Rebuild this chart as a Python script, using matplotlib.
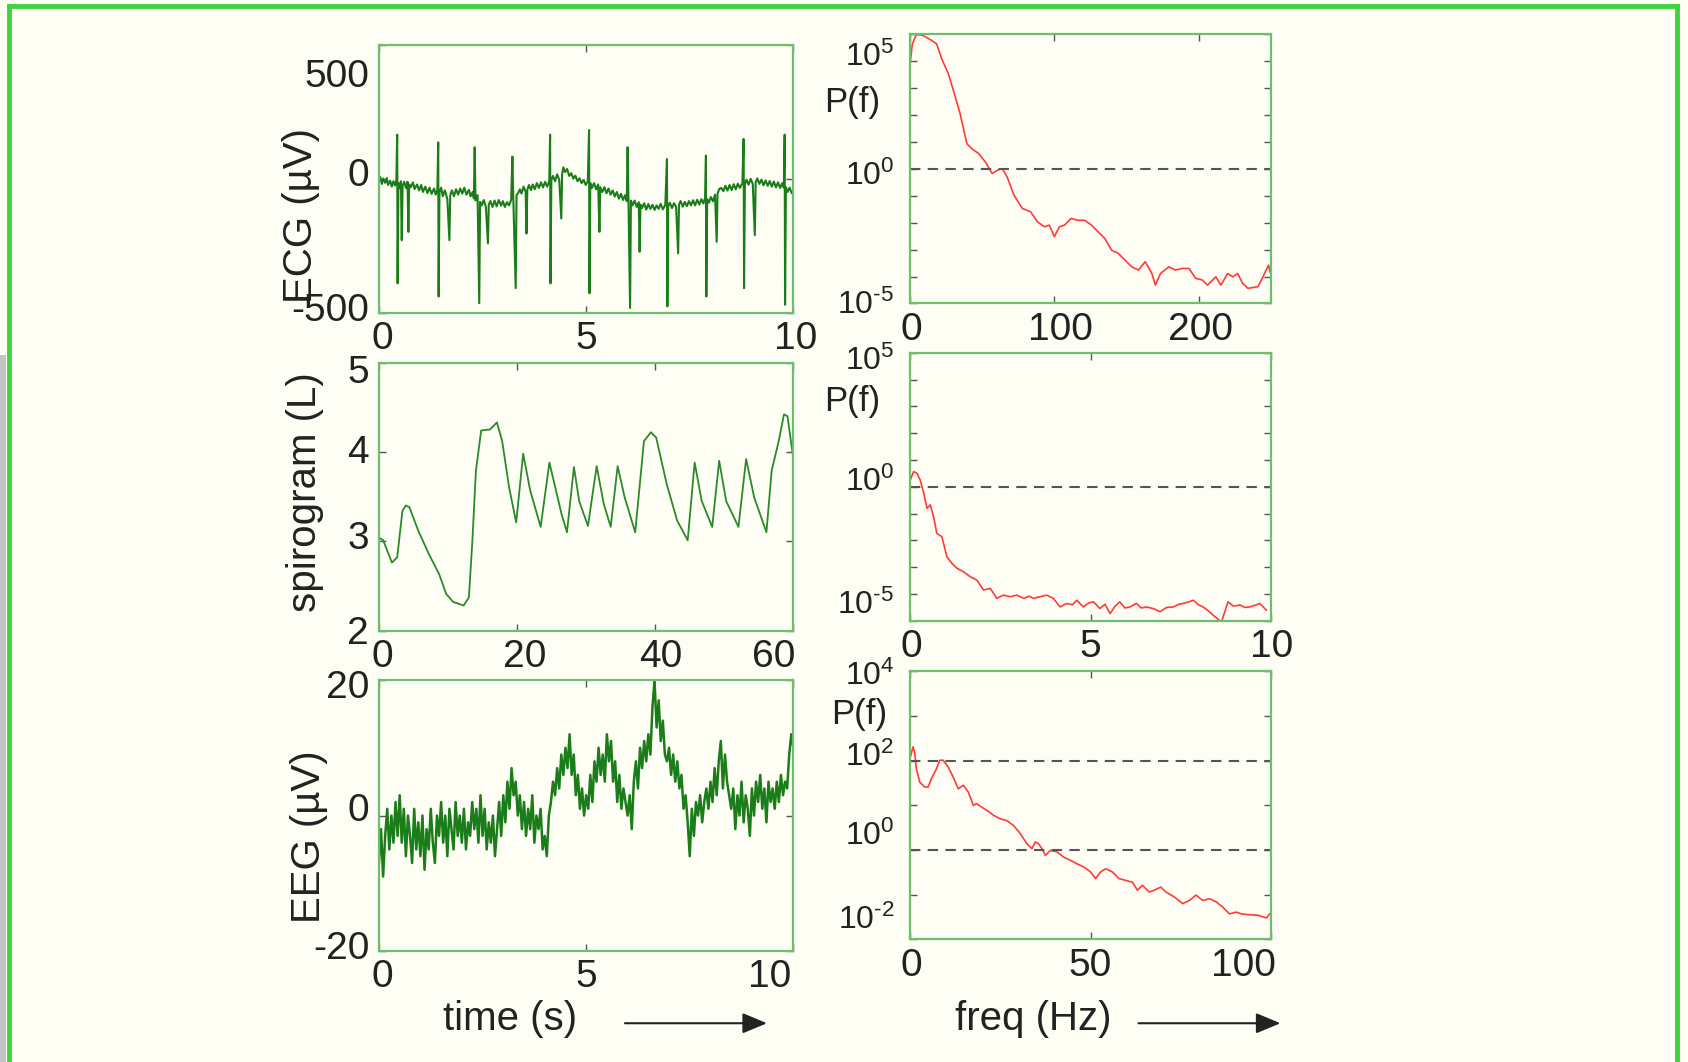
import numpy as np
import matplotlib.pyplot as plt
import matplotlib.transforms as mtransforms
from matplotlib.lines import Line2D
from matplotlib.patches import FancyArrowPatch, Rectangle

plt.rcParams['font.family'] = ['Liberation Sans', 'DejaVu Sans']
plt.rcParams['mathtext.fontset'] = 'custom'
plt.rcParams['mathtext.rm'] = 'Liberation Sans'
plt.rcParams['mathtext.it'] = 'Liberation Sans:italic'

# ECG trace (time s, microvolt)
ecg = [(0.00, -5), (0.03, 8), (0.07, -18), (0.10, 2), (0.15, -14), (0.19, 4), (0.22, -22), (0.27, -6),
       (0.31, -28), (0.35, -8), (0.39, -24), (0.42, -5), (0.44, 166), (0.45, -389), (0.47, -15), (0.50, -34),
       (0.53, -8), (0.55, -228), (0.57, -25), (0.61, -10), (0.65, -33), (0.69, -10), (0.71, -197), (0.73, -20),
       (0.77, -30), (0.82, -12), (0.86, -37), (0.92, -20), (0.97, -42), (1.02, -22), (1.06, -48), (1.12, -28),
       (1.17, -52), (1.22, -32), (1.27, -55), (1.33, -35), (1.37, -58), (1.41, -40), (1.43, 137), (1.44, -438),
       (1.46, -50), (1.50, -32), (1.54, -64), (1.59, -42), (1.65, -74), (1.70, -228), (1.72, -60), (1.76, -42),
       (1.81, -64), (1.86, -38), (1.91, -58), (1.96, -35), (2.01, -54), (2.06, -32), (2.11, -58), (2.17, -40),
       (2.21, -64), (2.26, -48), (2.29, -72), (2.31, 119), (2.33, -80), (2.38, -60), (2.42, -463), (2.44, -85),
       (2.48, -98), (2.53, -78), (2.58, -104), (2.63, -240), (2.65, -95), (2.69, -82), (2.74, -104), (2.79, -80),
       (2.84, -102), (2.89, -78), (2.95, -99), (2.99, -82), (3.04, -104), (3.09, -86), (3.14, -98), (3.19, -78),
       (3.22, 84), (3.24, -60), (3.30, -407), (3.32, -60), (3.36, -52), (3.40, -38), (3.44, -54), (3.49, -28),
       (3.54, -48), (3.56, -203), (3.58, -40), (3.62, -22), (3.67, -41), (3.71, -20), (3.76, -38), (3.81, -15),
       (3.86, -33), (3.91, -12), (3.96, -31), (4.01, -10), (4.06, -28), (4.11, -8), (4.13, 166), (4.14, -389),
       (4.16, -5), (4.20, 12), (4.25, -8), (4.30, 18), (4.35, -2), (4.40, -147), (4.42, 20), (4.45, 44),
       (4.49, 26), (4.54, 38), (4.59, 12), (4.64, 22), (4.69, 2), (4.74, 13), (4.79, -8), (4.84, 3),
       (4.89, -15), (4.94, -3), (4.99, -22), (5.04, -8), (5.07, 183), (5.08, -426), (5.10, -15), (5.14, -33),
       (5.19, -15), (5.24, -38), (5.29, -20), (5.32, -197), (5.34, -30), (5.39, -48), (5.44, -30), (5.49, -53),
       (5.54, -35), (5.59, -58), (5.64, -42), (5.69, -65), (5.74, -48), (5.79, -73), (5.84, -55), (5.89, -78),
       (5.94, -60), (5.98, -82), (6.00, 119), (6.02, -70), (6.06, -481), (6.08, -80), (6.12, -98), (6.17, -80),
       (6.22, -104), (6.27, -86), (6.29, -271), (6.31, -95), (6.35, -108), (6.40, -90), (6.45, -114), (6.50, -93),
       (6.55, -111), (6.60, -96), (6.65, -115), (6.70, -98), (6.75, -111), (6.80, -92), (6.85, -113), (6.91, -96),
       (6.95, 75), (6.96, -475), (6.98, -100), (7.02, -88), (7.07, -108), (7.12, -90), (7.17, -103), (7.22, -277),
       (7.24, -95), (7.28, -82), (7.33, -103), (7.38, -85), (7.43, -101), (7.48, -82), (7.53, -98), (7.58, -79),
       (7.63, -98), (7.68, -77), (7.73, -95), (7.78, -75), (7.83, -91), (7.87, -70), (7.89, 88), (7.90, -438),
       (7.92, -75), (7.96, -88), (8.01, -67), (8.06, -83), (8.11, -58), (8.15, -234), (8.17, -55), (8.21, -37),
       (8.26, -33), (8.31, -45), (8.36, -25), (8.41, -43), (8.46, -22), (8.51, -41), (8.56, -19), (8.61, -38),
       (8.66, -17), (8.71, -33), (8.77, -15), (8.80, 150), (8.81, -407), (8.83, -20), (8.87, -2), (8.92, -21),
       (8.97, 1), (9.02, -18), (9.07, -209), (9.09, -12), (9.13, 3), (9.18, -18), (9.23, -2), (9.28, -23),
       (9.33, -5), (9.38, -25), (9.43, -7), (9.48, -28), (9.53, -9), (9.58, -31), (9.63, -12), (9.68, -33),
       (9.73, -15), (9.77, -32), (9.79, 166), (9.80, -469), (9.82, -30), (9.86, -48), (9.91, -32), (9.96, -53),
       (10.0, -40)]

# spirogram (time s, litres)
spiro = [(0.0, 3.04), (0.61, 3.01), (1.88, 2.76), (2.64, 2.82), (3.40, 3.34), (3.90, 3.40), (4.41, 3.38),
         (5.68, 3.12), (7.20, 2.86), (8.72, 2.63), (9.73, 2.41), (10.74, 2.32), (12.27, 2.28), (13.02, 2.37),
         (13.53, 3.01), (14.04, 3.79), (14.80, 4.24), (16.07, 4.25), (17.08, 4.33), (17.84, 4.12), (18.85, 3.60),
         (19.87, 3.21), (20.88, 3.98), (21.89, 3.57), (23.41, 3.16), (24.68, 3.88), (26.45, 3.30), (27.22, 3.10),
         (28.23, 3.83), (28.99, 3.45), (30.26, 3.17), (31.52, 3.84), (32.54, 3.42), (33.55, 3.16), (34.56, 3.84),
         (35.58, 3.49), (37.10, 3.10), (38.37, 4.12), (39.38, 4.22), (40.14, 4.16), (41.66, 3.64), (43.18, 3.23),
         (44.70, 3.01), (45.71, 3.88), (46.73, 3.45), (48.25, 3.16), (49.26, 3.90), (50.27, 3.45), (52.05, 3.16),
         (53.16, 3.92), (54.33, 3.49), (56.10, 3.10), (56.86, 3.79), (57.88, 4.12), (58.64, 4.42), (59.14, 4.40),
         (59.90, 3.98)]

# EEG samples every 0.05 s from 0 to 10 s (microvolt)
eeg_v = [-7, -2, -9, -3, 1, -5, 0, -4, 2, -3,
         3, -4, 1, -6, 0, -3, -7, 1, -5, -1,
         -6, 0, -8, -2, -5, 1, -4, -7, 0, -3,
         2, -4, 0, -6, 1, -2, -5, 2, -3, 0,
         -4, 1, -5, -1, -3, 2, -2, 1, -4, 3,
         -3, 1, -5, -1, -4, 0, -6, -2, 2, -3,
         3, -1, 5, 1, 7, 3, 5, 0, 3, -2,
         2, -3, 1, -2, 3, -4, 0, -2, 1, -5,
         -3, -6, 0, 2, 5, 3, 7, 4, 9, 6,
         10, 7, 12, 6, 9, 3, 6, 1, 4, 0,
         3, 1, 6, 2, 8, 5, 10, 6, 9, 5,
         12, 8, 11, 5, 8, 2, 6, 1, 4, 2,
         0, 3, -2, 5, 8, 4, 10, 7, 11, 8,
         12, 9, 16, 20, 13, 17, 11, 14, 9, 8,
         10, 6, 9, 5, 8, 4, 6, 1, 3, -1,
         -6, 1, -3, 2, 0, 3, -1, 2, 4, 1,
         5, 2, 7, 3, 8, 11, 4, 9, 5, 3,
         1, 4, -2, 3, 0, 5, -1, 3, 1, -3,
         4, 0, 5, 2, 6, 1, 4, -1, 5, 2,
         4, 1, 5, 2, 6, 3, 5, 4, 9, 12,
         10]
eeg_t = np.linspace(0, 10, len(eeg_v))

# power spectra: (freq Hz, log10 P)
ecg_psd = [(0, 3.79), (1.9, 4.65), (4.7, 5.0), (9.3, 4.96), (15.1, 4.78), (18.6, 4.65), (22.1, 4.10),
           (26.7, 3.54), (30.2, 2.92), (34.9, 2.05), (39.5, 0.94), (43.0, 0.75), (47.7, 0.57), (52.3, 0.26),
           (57.0, -0.17), (60.5, -0.05), (64.0, 0.01), (67.4, -0.30), (72.1, -0.98), (77.9, -1.47),
           (83.7, -1.60), (88.4, -1.97), (93.0, -2.15), (96.5, -2.09), (100.0, -2.52), (103.5, -2.15),
           (107.0, -2.09), (111.6, -1.84), (116.3, -1.91), (121.0, -1.91), (125.6, -2.09), (130.2, -2.34),
           (134.9, -2.59), (139.5, -3.02), (144.2, -3.14), (148.8, -3.39), (153.5, -3.64), (158.1, -3.76),
           (162.8, -3.45), (167.4, -3.89), (169.8, -4.32), (173.3, -3.89), (179.1, -3.64), (183.7, -3.76),
           (188.4, -3.70), (193.0, -3.70), (197.7, -4.07), (202.3, -4.13), (205.8, -4.32), (211.6, -4.01),
           (215.1, -4.32), (219.8, -3.89), (223.3, -4.01), (226.7, -3.89), (230.2, -4.26), (233.7, -4.44),
           (240.7, -4.38), (244.2, -4.01), (248.0, -3.58), (250.0, -4.0)]
spiro_psd = [(0, 0.20), (0.11, 0.57), (0.20, 0.51), (0.29, 0.26), (0.39, -0.24), (0.48, -0.80), (0.57, -0.67),
             (0.66, -1.11), (0.75, -1.73), (0.89, -1.86), (1.03, -2.61), (1.17, -2.86), (1.31, -3.04),
             (1.49, -3.17), (1.67, -3.35), (1.86, -3.48), (2.04, -3.85), (2.23, -3.79), (2.41, -4.16),
             (2.59, -4.04), (2.78, -4.10), (2.96, -4.04), (3.15, -4.16), (3.30, -4.08), (3.42, -4.16),
             (3.60, -4.10), (3.79, -4.04), (3.97, -4.16), (4.16, -4.48), (4.34, -4.35), (4.50, -4.40),
             (4.62, -4.23), (4.80, -4.48), (4.95, -4.33), (5.08, -4.29), (5.26, -4.54), (5.40, -4.38),
             (5.54, -4.73), (5.68, -4.45), (5.81, -4.29), (5.95, -4.52), (6.09, -4.48), (6.27, -4.35),
             (6.40, -4.52), (6.55, -4.48), (6.75, -4.55), (6.92, -4.66), (7.10, -4.50), (7.29, -4.48),
             (7.45, -4.38), (7.56, -4.35), (7.70, -4.30), (7.84, -4.23), (7.98, -4.40), (8.11, -4.48),
             (8.25, -4.62), (8.39, -4.79), (8.62, -5.04), (8.80, -4.29), (8.95, -4.45), (9.13, -4.41),
             (9.27, -4.50), (9.40, -4.48), (9.55, -4.42), (9.68, -4.35), (9.86, -4.60)]
eeg_psd = [(0, 2.04), (0.46, 2.16), (0.93, 2.31), (1.39, 2.19), (1.85, 1.82), (2.78, 1.52), (4.17, 1.41),
           (5.09, 1.41), (6.02, 1.60), (7.41, 1.82), (8.33, 2.01), (9.26, 2.01), (10.65, 1.86), (12.04, 1.63),
           (13.43, 1.37), (14.81, 1.45), (16.20, 1.30), (17.59, 1.00), (18.52, 1.04), (19.91, 0.96),
           (21.30, 0.89), (23.15, 0.78), (25.00, 0.70), (26.85, 0.66), (28.70, 0.55), (30.56, 0.37),
           (32.41, 0.14), (33.80, 0.03), (34.72, 0.18), (35.65, 0.14), (36.57, 0.03), (37.50, -0.12),
           (38.89, -0.01), (40.74, -0.04), (42.59, -0.16), (44.44, -0.23), (46.30, -0.31), (48.15, -0.38),
           (50.00, -0.49), (51.39, -0.64), (52.78, -0.49), (54.17, -0.42), (56.02, -0.49), (57.87, -0.64),
           (59.72, -0.68), (61.57, -0.72), (62.96, -0.90), (64.35, -0.79), (66.20, -0.94), (67.59, -0.90),
           (69.44, -0.83), (70.83, -0.94), (73.15, -1.05), (75.46, -1.20), (77.31, -1.13), (79.17, -1.01),
           (81.02, -1.13), (82.87, -1.09), (84.72, -1.16), (86.57, -1.28), (88.43, -1.43), (90.28, -1.39),
           (91.67, -1.43), (93.98, -1.45), (96.30, -1.46), (98.61, -1.52), (99.54, -1.43)]

BG = '#fefef5'
SPINE = '#6cbf6c'
TRACE = '#1a7d1a'
RED = '#ff3b3b'
TXT = '#222222'

fig = plt.figure(figsize=(16.88, 10.62), dpi=100, facecolor=BG)


def style(ax):
    ax.set_facecolor(BG)
    for s in ax.spines.values():
        s.set_color(SPINE)
        s.set_linewidth(1.6)
    ax.tick_params(which='both', direction='in', length=5, width=1, color='#555555',
                   top=True, right=True, labelsize=28, labelcolor=TXT)
    ax.tick_params(axis='x', pad=6)
    ax.tick_params(axis='y', pad=7)


def shift(labels, offsets):
    # move tick labels by (dx, dy) pixels, dy downwards
    for lab, (dx, dy) in zip(labels, offsets):
        off = mtransforms.ScaledTranslation(dx / 100, -dy / 100, fig.dpi_scale_trans)
        lab.set_transform(lab.get_transform() + off)


def log_axis(ax, lo, hi, labelled, offsets):
    ax.set_yscale('log')
    ax.set_ylim(10.0 ** lo, 10.0 ** hi)
    ax.yaxis.set_major_locator(plt.FixedLocator([10.0 ** e for e in labelled]))
    ax.yaxis.set_minor_locator(plt.FixedLocator([10.0 ** e for e in range(lo, hi + 1)]))
    ax.yaxis.set_minor_formatter(plt.NullFormatter())
    ax.set_yticklabels([r'$\mathregular{10^{%s}}$' % (r'\text{-}%d' % -e if e < 0 else '%d' % e)
                        for e in labelled])
    ax.tick_params(axis='y', labelsize=23, pad=11)
    shift(ax.get_yticklabels(), offsets)


# left column: signals
ax1 = fig.add_axes([0.2245, 0.7052, 0.2455, 0.2523])
style(ax1)
t, v = np.array(ecg).T
ax1.plot(t, v, color=TRACE, lw=1.5)
ax1.set_xlim(0, 10)
ax1.set_ylim(-500, 500)
ax1.set_xticks([0, 5, 10], ['0', '5', '10'])
ax1.set_yticks([-500, 0, 500], ['-500', '0', '500'])
shift(ax1.get_yticklabels(), [(0, -6), (0, -7), (0, 28)])
shift(ax1.get_xticklabels(), [(3, 0), (0, 0), (2, 0)])

ax2 = fig.add_axes([0.2245, 0.4063, 0.2455, 0.2523])
style(ax2)
t, v = np.array(spiro).T
ax2.plot(t, v, color='#2a8a2a', lw=1.3)
ax2.set_xlim(0, 60)
ax2.set_ylim(2, 5)
ax2.set_xticks([0, 20, 40, 60], ['0', '20', '40', '60'])
ax2.set_yticks([2, 3, 4, 5], ['2', '3', '4', '5'])
shift(ax2.get_yticklabels(), [(0, -1), (0, -6), (0, -3), (0, 6)])
shift(ax2.get_xticklabels(), [(3, 0), (8, 0), (6, 0), (-20, 0)])

ax3 = fig.add_axes([0.2245, 0.1044, 0.2455, 0.2553])
style(ax3)
ax3.plot(eeg_t, eeg_v, color=TRACE, lw=1.8)
ax3.set_xlim(0, 10)
ax3.set_ylim(-20, 20)
ax3.set_xticks([0, 5, 10], ['0', '5', '10'])
ax3.set_yticks([-20, 0, 20], ['-20', '0', '20'])
shift(ax3.get_yticklabels(), [(0, -6), (0, -9), (0, 4)])
shift(ax3.get_xticklabels(), [(3, 0), (0, 0), (-24, 0)])

# right column: spectra
dash = dict(color='#555555', lw=1.5, ls=(0, (5, 3.5)))

ax4 = fig.add_axes([0.5389, 0.7143, 0.2143, 0.2533])
style(ax4)
f, p = np.array(ecg_psd).T
ax4.plot(f, 10.0 ** p, color=RED, lw=1.2)
ax4.axhline(1.0, **dash)
ax4.set_xlim(0, 250)
ax4.set_xticks([0, 100, 200], ['0', '100', '200'])
shift(ax4.get_xticklabels(), [(2, 0), (6, 0), (1, 0)])
log_axis(ax4, -5, 5, [-5, 0, 5], [(0, -2), (0, 4), (0, 19)])

ax5 = fig.add_axes([0.5389, 0.4154, 0.2143, 0.2523])
style(ax5)
f, p = np.array(spiro_psd).T
ax5.plot(f, 10.0 ** p, color=RED, lw=1.2)
ax5.axhline(1.0, **dash)
ax5.set_xlim(0, 10)
ax5.set_xticks([0, 5, 10], ['0', '5', '10'])
shift(ax5.get_xticklabels(), [(2, 0), (0, 0), (0, 0)])
log_axis(ax5, -5, 5, [-5, 0, 5], [(0, -19), (0, -8), (0, 5)])

ax6 = fig.add_axes([0.5389, 0.1155, 0.2143, 0.2523])
style(ax6)
f, p = np.array(eeg_psd).T
ax6.plot(f, 10.0 ** p, color=RED, lw=1.2)
ax6.axhline(100.0, **dash)
ax6.axhline(1.0, **dash)
ax6.set_xlim(0, 100)
ax6.set_xticks([0, 50, 100], ['0', '50', '100'])
shift(ax6.get_xticklabels(), [(2, 0), (0, 0), (-28, 0)])
log_axis(ax6, -2, 4, [-2, 0, 2, 4], [(0, -22), (0, -17), (0, -7), (0, 1)])

# axis titles
fig.text(0.1786, 0.7974, 'ECG (µV)', rotation=90, ha='center', va='center', fontsize=29, color=TXT)
fig.text(0.1805, 0.5370, 'spirogram (L)', rotation=90, ha='center', va='center', fontsize=29, color=TXT)
fig.text(0.1830, 0.2118, 'EEG (µV)', rotation=90, ha='center', va='center', fontsize=29, color=TXT)
for x, y in [(0.5051, 0.9037), (0.5051, 0.6221), (0.5089, 0.3273)]:
    fig.text(x, y, 'P(f)', ha='center', va='center', fontsize=25, color=TXT)

fig.text(0.3023, 0.0405, 'time (s)', ha='center', va='center', fontsize=29, color=TXT)
fig.text(0.6122, 0.0405, 'freq (Hz)', ha='center', va='center', fontsize=29, color=TXT)
for x0, x1 in [(0.3686, 0.4560), (0.6728, 0.7602)]:
    fig.add_artist(FancyArrowPatch((x0, 0.0365), (x1, 0.0365), transform=fig.transFigure,
                                   arrowstyle='-|>,head_length=0.6,head_width=0.25',
                                   mutation_scale=25, color='#222222', lw=1.5))

# green frame around the page
frame = dict(transform=fig.transFigure, color='#3fd43f', lw=3.5)
fig.add_artist(Line2D([0.0053, 0.9935], [0.9947, 0.9947], **frame))
fig.add_artist(Line2D([0.0053, 0.0053], [0.0, 0.9947], **frame))
fig.add_artist(Line2D([0.9935, 0.9935], [0.0, 0.9947], **frame))
fig.add_artist(Rectangle((0, 0), 0.0035, 0.666, transform=fig.transFigure, color='#c4c4c4', lw=0))

fig.savefig('out.png', dpi=100, facecolor=BG)
